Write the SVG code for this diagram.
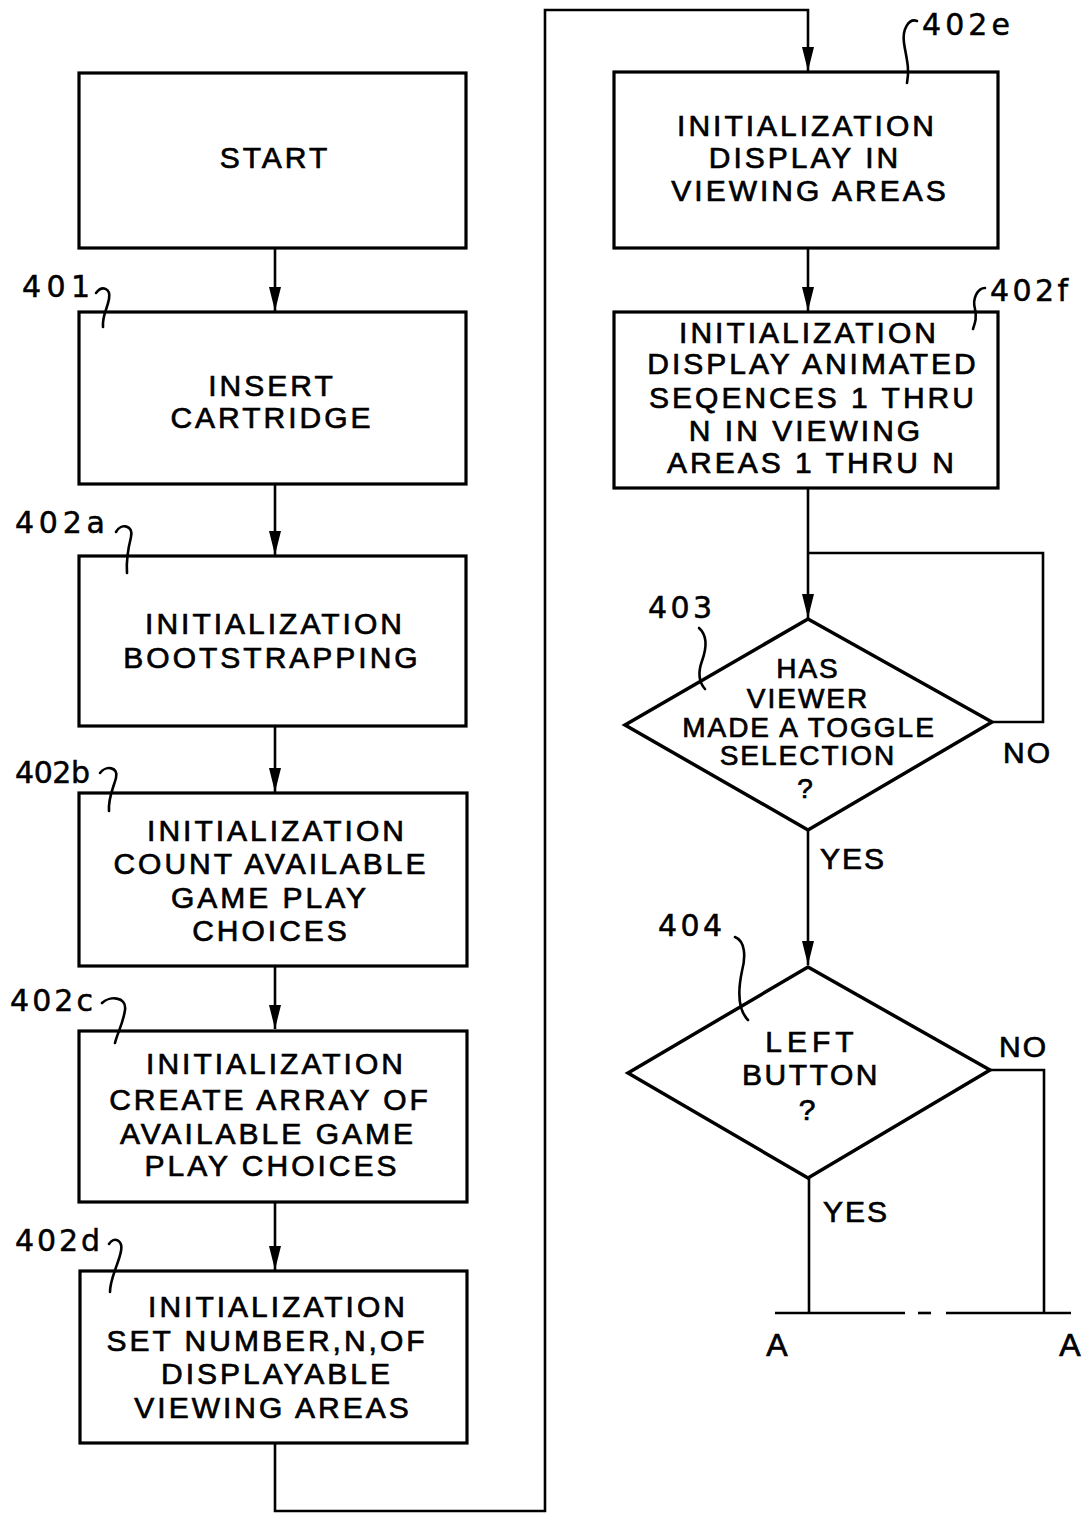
<svg xmlns="http://www.w3.org/2000/svg" width="1085" height="1514" viewBox="0 0 1085 1514">
<style>
  .box { fill: #fff; stroke: #000; stroke-width: 3.2; }
  .dia { fill: #fff; stroke: #000; stroke-width: 3.5; stroke-linejoin: miter; }
  .t { font-family: "Liberation Sans", Arial, sans-serif; font-size: 30px; fill: #000; stroke: #000; stroke-width: 0.7px; text-anchor: middle; letter-spacing: 3px; }
  .d { font-family: "Liberation Sans", Arial, sans-serif; font-size: 28px; fill: #000; stroke: #000; stroke-width: 0.7px; text-anchor: middle; letter-spacing: 2px; }
  .lbl { font-family: "DejaVu Sans", "Liberation Sans", sans-serif; font-size: 30px; fill: #000; stroke: #000; stroke-width: 0.5px; }
  .yn { font-family: "Liberation Sans", Arial, sans-serif; font-size: 30px; fill: #000; stroke: #000; stroke-width: 0.7px; letter-spacing: 2px; }
  .ln { fill: none; stroke: #000; stroke-width: 2.6; }
  .lead { fill: none; stroke: #000; stroke-width: 2.6; stroke-linecap: round; }
</style>
<defs>
  <marker id="arr" markerUnits="userSpaceOnUse" markerWidth="26" markerHeight="14" refX="24" refY="6" orient="auto">
    <path d="M0,0 L24,6 L0,12 z" fill="#000"/>
  </marker>
</defs>

<g id="connectors">
  <line class="ln" x1="275" y1="248" x2="275" y2="311" marker-end="url(#arr)"/>
  <line class="ln" x1="275" y1="484" x2="275" y2="555" marker-end="url(#arr)"/>
  <line class="ln" x1="275" y1="726" x2="275" y2="792" marker-end="url(#arr)"/>
  <line class="ln" x1="275" y1="966" x2="275" y2="1029" marker-end="url(#arr)"/>
  <line class="ln" x1="275" y1="1202" x2="275" y2="1270" marker-end="url(#arr)"/>
  <polyline class="ln" points="275,1443 275,1511 545,1511 545,10 808,10 808,71" marker-end="url(#arr)"/>
  <line class="ln" x1="808" y1="248" x2="808" y2="311" marker-end="url(#arr)"/>
  <line class="ln" x1="808" y1="488" x2="808" y2="618" marker-end="url(#arr)"/>
  <polyline class="ln" points="993,722 1043,722 1043,553 808,553"/>
  <line class="ln" x1="808" y1="830" x2="808" y2="965" marker-end="url(#arr)"/>
  <polyline class="ln" points="990,1070 1044,1070 1044,1313"/>
  <line class="ln" x1="809" y1="1178" x2="809" y2="1313"/>
  <line class="ln" x1="775" y1="1313" x2="905" y2="1313" stroke-width="3"/>
  <line class="ln" x1="918" y1="1313" x2="931" y2="1313" stroke-width="3"/>
  <line class="ln" x1="946" y1="1313" x2="1071" y2="1313" stroke-width="3"/>
</g>

<g id="start">
  <rect class="box" x="79" y="73" width="387" height="175"/>
  <text class="t" x="275" y="168">START</text>
</g>

<g id="n401">
  <rect class="box" x="79" y="312" width="387" height="172"/>
  <text class="t" x="272" y="396">INSERT</text>
  <text class="t" x="272" y="428">CARTRIDGE</text>
  <text class="lbl" x="22" y="297" textLength="68" lengthAdjust="spacing">401</text>
  <path class="lead" d="M96 293 C102 285 111 288 109 299 C107 310 102 316 103 327"/>
</g>

<g id="n402a">
  <rect class="box" x="79" y="556" width="387" height="170"/>
  <text class="t" x="275" y="634">INITIALIZATION</text>
  <text class="t" x="272" y="668">BOOTSTRAPPING</text>
  <text class="lbl" x="15" y="533" textLength="90" lengthAdjust="spacing">402a</text>
  <path class="lead" d="M116 532 C121 523 134 525 131 537 C128 549 126 560 127 573"/>
</g>

<g id="n402b">
  <rect class="box" x="79" y="793" width="388" height="173"/>
  <text class="t" x="277" y="841">INITIALIZATION</text>
  <text class="t" x="271" y="874">COUNT AVAILABLE</text>
  <text class="t" x="270" y="908">GAME PLAY</text>
  <text class="t" x="271" y="941">CHOICES</text>
  <text class="lbl" x="15" y="783" textLength="75" lengthAdjust="spacing">402b</text>
  <path class="lead" d="M100 773 C106 765 119 767 116 778 C113 789 108 798 109 811"/>
</g>

<g id="n402c">
  <rect class="box" x="79" y="1031" width="388" height="171"/>
  <text class="t" x="276" y="1074">INITIALIZATION</text>
  <text class="t" x="270" y="1110">CREATE ARRAY OF</text>
  <text class="t" x="268" y="1144">AVAILABLE GAME</text>
  <text class="t" x="272" y="1176">PLAY CHOICES</text>
  <text class="lbl" x="10" y="1011" textLength="83" lengthAdjust="spacing">402c</text>
  <path class="lead" d="M102 1003 C109 996 127 996 125 1010 C123 1024 117 1034 115 1043"/>
</g>

<g id="n402d">
  <rect class="box" x="80" y="1271" width="387" height="172"/>
  <text class="t" x="278" y="1317">INITIALIZATION</text>
  <text class="t" x="267" y="1351">SET NUMBER,N,OF</text>
  <text class="t" x="277" y="1384">DISPLAYABLE</text>
  <text class="t" x="273" y="1418">VIEWING AREAS</text>
  <text class="lbl" x="15" y="1251" textLength="85" lengthAdjust="spacing">402d</text>
  <path class="lead" d="M109 1244 C114 1236 123 1240 121 1251 C119 1263 110 1278 110 1292"/>
</g>

<g id="n402e">
  <rect class="box" x="614" y="72" width="384" height="176"/>
  <text class="t" x="807" y="136">INITIALIZATION</text>
  <text class="t" x="805" y="168">DISPLAY IN</text>
  <text class="t" x="810" y="201">VIEWING AREAS</text>
  <text class="lbl" x="922" y="35" textLength="88" lengthAdjust="spacing">402e</text>
  <path class="lead" d="M917 21 C909 18 902 29 904 43 C906 57 910 68 907 83"/>
</g>

<g id="n402f">
  <rect class="box" x="614" y="312" width="384" height="176"/>
  <text class="t" x="809" y="343">INITIALIZATION</text>
  <text class="t" x="813" y="374">DISPLAY ANIMATED</text>
  <text class="t" x="813" y="408">SEQENCES 1 THRU</text>
  <text class="t" x="806" y="441">N IN VIEWING</text>
  <text class="t" x="812" y="473">AREAS 1 THRU N</text>
  <text class="lbl" x="990" y="301" textLength="78" lengthAdjust="spacing">402f</text>
  <path class="lead" d="M985 288 C978 288 972 298 975 309 C977 318 975 323 973 329"/>
</g>

<g id="n403">
  <polygon class="dia" points="808,619 992,722 808,830 625,725"/>
  <text class="d" x="808" y="678">HAS</text>
  <text class="d" x="808" y="708">VIEWER</text>
  <text class="d" x="809" y="737">MADE A TOGGLE</text>
  <text class="d" x="808" y="765">SELECTION</text>
  <text class="d" x="806" y="798">?</text>
  <text class="lbl" x="648" y="618" textLength="64" lengthAdjust="spacing">403</text>
  <path class="lead" d="M699 628 C708 636 706 650 702 661 C698 672 698 681 705 689"/>
  <text class="yn" x="1003" y="763">NO</text>
  <text class="yn" x="820" y="869">YES</text>
</g>

<g id="n404">
  <polygon class="dia" points="808,967 990,1070 808,1178 628,1073"/>
  <text class="d" x="812" y="1052" style="letter-spacing:5px;font-size:30px">LEFT</text>
  <text class="d" x="811" y="1085" style="font-size:30px;letter-spacing:2.5px">BUTTON</text>
  <text class="d" x="808" y="1120" style="font-size:30px">?</text>
  <text class="lbl" x="658" y="936" textLength="64" lengthAdjust="spacing">404</text>
  <path class="lead" d="M735 937 C745 941 746 956 742 971 C738 990 738 1010 748 1020"/>
  <text class="yn" x="999" y="1057">NO</text>
  <text class="yn" x="823" y="1222">YES</text>
</g>

<g id="connectorA">
  <text class="t" x="777" y="1356" style="letter-spacing:0;font-size:32px">A</text>
  <text class="t" x="1070" y="1356" style="letter-spacing:0;font-size:32px">A</text>
</g>
</svg>
